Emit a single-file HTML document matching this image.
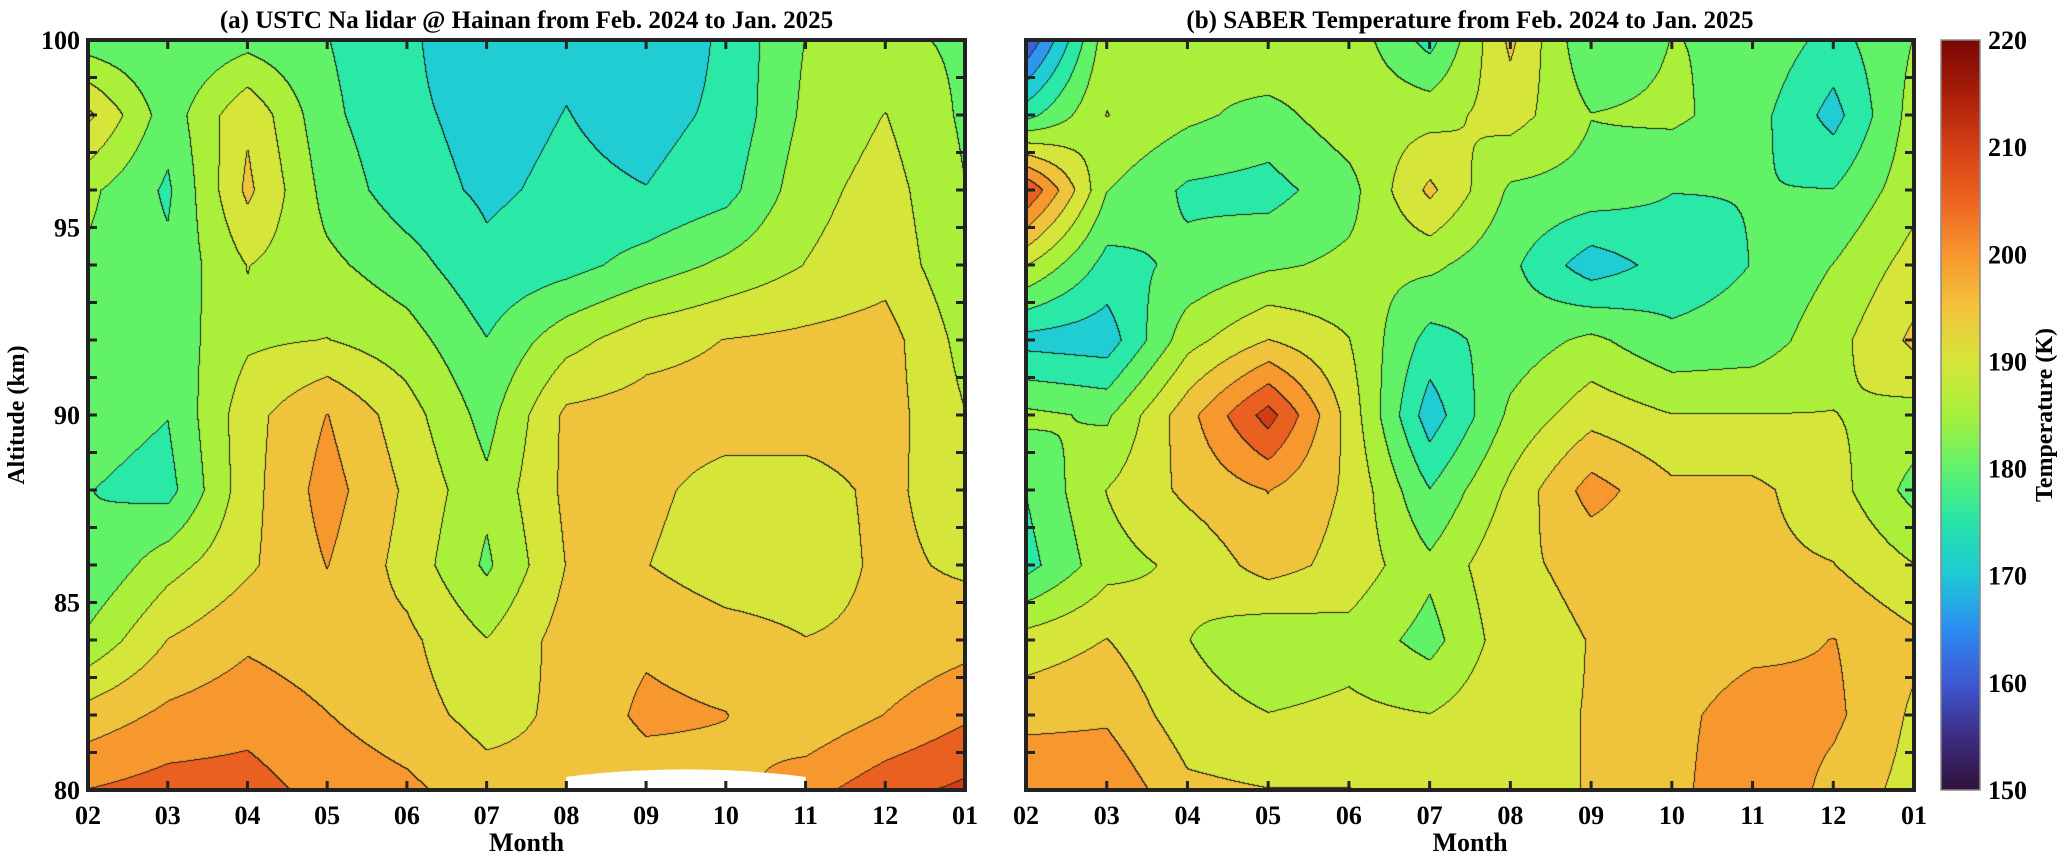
<!DOCTYPE html>
<html><head><meta charset="utf-8">
<style>
body{margin:0;background:#fff;width:2067px;height:860px;overflow:hidden;font-family:"Liberation Serif",serif;}
#root{position:relative;width:2067px;height:860px;}
canvas{position:absolute;}
</style></head><body>
<div id="root">
<canvas id="ca" width="877" height="750" style="left:88px;top:40px"></canvas>
<canvas id="cb" width="888" height="750" style="left:1026px;top:40px"></canvas>
<canvas id="cbar" width="39" height="750" style="left:1941px;top:40px"></canvas>
<svg id="ov" width="2067" height="860" style="position:absolute;left:0;top:0"></svg>
</div>
<script>
const months=["02","03","04","05","06","07","08","09","10","11","12","01"];
const altitudes=[100,98,96,94,92,90,88,86,84,82,80];
const yTicks=[80,85,90,95,100];
const cbTicks=[150,160,170,180,190,200,210,220];
const tempA=[
[182,180,183,180,176,170,174,170,176,185,186,184],
[196,182,194,181,176,173,175,173,176,186,190,184],
[186,179,196,183,177,174,176,175,178,188,192,185],
[184,181,190,186,182,176,178,182,186,190,193,186],
[183,182,189,190,187,180,188,193,195,196,197,188],
[182,180,193,200,192,183,196,197,197,197,197,190],
[180,178,193,202,194,186,196,196,193,193,196,192],
[180,188,194,200,193,184,195,195,192,192,196,194],
[186,195,199,197,196,190,197,199,197,195,196,198],
[197,201,203,200,197,193,196,201,200,196,200,204],
[205,207,207,203,201,197,196,197,198,203,208,211]];
const tempB=[
[160,188,186,190,188,178,196,180,185,184,178,185],
[178,190,186,183,188,188,192,185,186,182,173,187],
[210,185,179,178,183,196,184,183,180,180,180,188],
[190,178,181,184,186,186,181,172,177,180,185,192],
[173,172,188,195,190,178,182,186,181,182,188,196],
[186,184,198,212,193,172,186,193,190,190,190,188],
[180,190,196,200,194,180,191,202,196,196,192,183],
[178,188,191,197,193,186,194,196,196,196,195,190],
[192,195,190,186,188,183,193,195,196,198,200,196],
[198,199,192,190,191,190,194,195,198,203,201,194],
[205,204,196,195,195,193,194,195,198,205,198,193]];
const bandColors={150:"#341a5c",155:"#3b3aa0",160:"#3f60d8",165:"#2f96ee",170:"#20cdd2",175:"#2ae8a6",180:"#62f268",185:"#aaf03a",190:"#d6e53a",195:"#f0c33c",200:"#f7982e",205:"#ea6020",210:"#d13c14",215:"#a41c08"};
const stops=[[150,[48,18,59]],[155,[60,45,130]],[160,[62,88,210]],[165,[45,140,240]],[170,[30,200,215]],[175,[40,228,170]],[180,[95,242,110]],[185,[168,240,60]],[190,[214,230,58]],[195,[242,196,60]],[200,[248,152,46]],[205,[238,100,32]],[210,[214,64,22]],[215,[170,30,10]],[220,[122,8,4]]];
function colorAt(v){
  if(v<=stops[0][0])return stops[0][1];
  for(let i=1;i<stops.length;i++){if(v<=stops[i][0]){const a=stops[i-1],b=stops[i],t=(v-a[0])/(b[0]-a[0]);return a[1].map((c,k)=>Math.round(c+(b[1][k]-c)*t));}}
  return stops[stops.length-1][1];
}
function hex(h){return [parseInt(h.substr(1,2),16),parseInt(h.substr(3,2),16),parseInt(h.substr(5,2),16)];}
function levelColor(v){let l=Math.floor(v/5)*5;l=Math.max(150,Math.min(215,l));return hex(bandColors[l]);}
function sample(g,fx,fy){
  const c=Math.max(0,Math.min(g[0].length-1.0001,fx)),r=Math.max(0,Math.min(g.length-1.0001,fy));
  const c0=Math.floor(c),r0=Math.floor(r),tx=c-c0,ty=r-r0;
  const a=g[r0][c0],b=g[r0][c0+1],cc=g[r0+1][c0],d=g[r0+1][c0+1];
  return a*(1-tx)*(1-ty)+b*tx*(1-ty)+cc*(1-tx)*ty+d*tx*ty+0.137;
}
function draw(id,g){
  const cv=document.getElementById(id),ctx=cv.getContext('2d'),W=cv.width,H=cv.height;
  const img=ctx.createImageData(W,H),L=new Int16Array(W*H);
  for(let y=0;y<H;y++)for(let x=0;x<W;x++){
    const alt=100-20*y/H, fx=11*x/W, fy=(100-alt)/2;
    const v=sample(g,fx,fy);L[y*W+x]=Math.floor(v/5);
    const col=levelColor(v),i=(y*W+x)*4;img.data[i]=col[0];img.data[i+1]=col[1];img.data[i+2]=col[2];img.data[i+3]=255;
  }
  for(let y=0;y<H-1;y++)for(let x=0;x<W-1;x++){
    const k=y*W+x;if(L[k]!==L[k+1]||L[k]!==L[k+W]){const i=k*4;img.data[i]=30;img.data[i+1]=30;img.data[i+2]=30;}
  }
  ctx.putImageData(img,0,0);
}
draw('ca',tempA);draw('cb',tempB);
(function(){const cv=document.getElementById('cbar'),ctx=cv.getContext('2d');
for(let y=0;y<750;y++){const v=220-70*y/750,c=colorAt(v);ctx.fillStyle=`rgb(${c[0]},${c[1]},${c[2]})`;ctx.fillRect(0,y,39,1);}})();
const NS="http://www.w3.org/2000/svg",ov=document.getElementById('ov');
function el(tag,at,txt){const e=document.createElementNS(NS,tag);for(const k in at)e.setAttribute(k,at[k]);if(txt!==undefined)e.textContent=txt;ov.appendChild(e);return e;}
function panel(x0,x1,y0,y1,title,name,showY){
  const xs=m=>x0+(x1-x0)*m/11, ys=a=>y1-(y1-y0)*(a-80)/20;
  if(name==='a'){const p=el('path',{d:`M${xs(6)} ${y1} L${xs(6)} ${ys(80.35)} Q${xs(7.5)} ${ys(80.75)} ${xs(9)} ${ys(80.35)} L${xs(9)} ${y1} Z`,fill:'#fff'});
    }
  const r=el('rect',{x:x0,y:y0,width:x1-x0,height:y1-y0,fill:'none',stroke:'#222','stroke-width':4});
  
  months.forEach((m,i)=>{const x=xs(i);
    el('line',{x1:x,x2:x,y1:y1,y2:y1-9,stroke:'#222','stroke-width':3});
    el('line',{x1:x,x2:x,y1:y0,y2:y0+9,stroke:'#222','stroke-width':3});
    const t=el('text',{x:x,y:y1+34,'text-anchor':'middle','font-size':26,'font-weight':'bold','font-family':'Liberation Serif'},m);
    });
  for(let a=80;a<=100;a++){const y=ys(a);
    el('line',{x1:x0,x2:x0+9,y1:y,y2:y,stroke:'#222','stroke-width':3});
    el('line',{x1:x1,x2:x1-9,y1:y,y2:y,stroke:'#222','stroke-width':3});}
  if(showY)yTicks.forEach(a=>{const t=el('text',{x:x0-8,y:ys(a)+9,'text-anchor':'end','font-size':26,'font-weight':'bold','font-family':'Liberation Serif'},a);
    });
  const tt=el('text',{x:(x0+x1)/2,y:28,'text-anchor':'middle','font-size':25,'font-weight':'bold','font-family':'Liberation Serif'},title);
  
  const xl=el('text',{x:(x0+x1)/2,y:851,'text-anchor':'middle','font-size':26,'font-weight':'bold','font-family':'Liberation Serif'},'Month');
  
}
panel(88,965,40,790,'(a) USTC Na lidar @ Hainan from Feb. 2024 to Jan. 2025','a',true);
panel(1026,1914,40,790,'(b) SABER Temperature from Feb. 2024 to Jan. 2025','b',false);
const yl=el('text',{x:0,y:0,transform:'translate(24,415) rotate(-90)','text-anchor':'middle','font-size':24,'font-weight':'bold','font-family':'Liberation Serif'},'Altitude (km)');

const cbf=el('rect',{x:1941,y:40,width:39,height:750,fill:'none',stroke:'#888','stroke-width':1.5});

cbTicks.forEach(v=>{const y=790-750*(v-150)/70;
  const t=el('text',{x:1988,y:y+9,'font-size':26,'font-weight':'bold','font-family':'Liberation Serif'},v);
  });
const ct=el('text',{x:0,y:0,transform:'translate(2052,415) rotate(-90)','text-anchor':'middle','font-size':24,'font-weight':'bold','font-family':'Liberation Serif'},'Temperature (K)');

</script>
</body></html>
